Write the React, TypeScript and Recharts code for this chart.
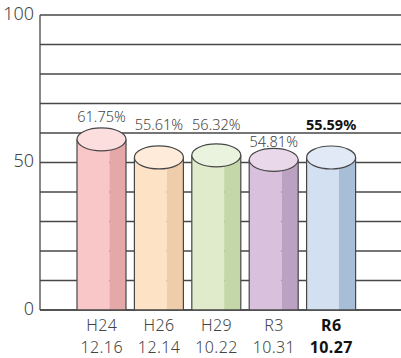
import { BarChart, Bar, XAxis, YAxis, CartesianGrid, LabelList } from 'recharts'

const periods = ['H24', 'H26', 'H29', 'R3', 'R6']
const dates = ['12.16', '12.14', '10.22', '10.31', '10.27']
const turnout = [61.75, 55.61, 56.32, 54.81, 55.59]
const yTicks = [0, 10, 20, 30, 40, 50, 60, 70, 80, 90, 100]
const yLabeled = [0, 50, 100]

// face / shade / lid colours of each cylinder
const faces = ['#f9c7c8', '#fde2c6', '#dfebca', '#d9c1de', '#d3e0f1']
const shades = ['#e5a8a9', '#efcdaa', '#c3d7a8', '#bba2c3', '#a8bdd6']
const lids = ['#fcdede', '#feebd9', '#eaf3dd', '#e8d8ea', '#e0e9f5']

// percentage labels sit a little apart to keep them off each other
const labelLift = [10, 20, 18, 5, 20]

const data = periods.map((p, i) => ({ name: p, date: dates[i], value: turnout[i] }))
const last = periods.length - 1
const font = '"Noto Sans", sans-serif'
const lineColor = '#474747'

function Cylinder(props: any) {
  const { x, y, width, height, index } = props
  const ry = 11.5
  const split = width * 0.66
  const bodyTop = y + ry
  const bottom = y + height
  return (
    <g>
      <rect x={x} y={bodyTop} width={split} height={bottom - bodyTop} fill={faces[index]} />
      <rect x={x + split} y={bodyTop} width={width - split} height={bottom - bodyTop} fill={shades[index]} />
      <line x1={x} y1={bodyTop} x2={x} y2={bottom} stroke={lineColor} strokeWidth={1.2} />
      <line x1={x + width} y1={bodyTop} x2={x + width} y2={bottom} stroke={lineColor} strokeWidth={1.2} />
      <ellipse cx={x + width / 2} cy={bodyTop} rx={width / 2} ry={ry} fill={lids[index]} stroke={lineColor} strokeWidth={1.2} />
    </g>
  )
}

function PercentLabel(props: any) {
  const { x, y, width, index, value } = props
  const bold = index === last
  return (
    <text
      x={x + width / 2}
      y={y - labelLift[index]}
      textAnchor="middle"
      dominantBaseline="middle"
      fontFamily={font}
      fontSize={14.5}
      fontWeight={bold ? 700 : 300}
      fill={bold ? '#111' : '#444'}
    >
      {value.toFixed(2)}%
    </text>
  )
}

function PeriodTick(props: any) {
  const { x, y, payload, index } = props
  const bold = index === last
  const style = {
    fontFamily: font,
    fontSize: 16,
    letterSpacing: 0.4,
    fontWeight: bold ? 700 : 300,
    fill: bold ? '#111' : '#444',
  }
  return (
    <g>
      <text x={x} y={y + 15} textAnchor="middle" dominantBaseline="middle" style={style}>
        {payload.value}
      </text>
      <text x={x} y={y + 37} textAnchor="middle" dominantBaseline="middle" style={style}>
        {dates[index]}
      </text>
    </g>
  )
}

function ValueTick(props: any) {
  const { x, y, payload } = props
  if (!yLabeled.includes(payload.value)) return null
  return (
    <text x={x - 4} y={y} textAnchor="end" dominantBaseline="middle" fontFamily={font} fontSize={18} fontWeight={300} fill="#444">
      {payload.value}
    </text>
  )
}

export default function App() {
  return (
    <div style={{ position: 'absolute', left: 0, top: 0, background: '#fff' }}>
      <BarChart width={401} height={358} data={data} margin={{ top: 15, right: 0, left: 0, bottom: 0 }}>
        <CartesianGrid horizontal vertical={false} stroke={lineColor} strokeWidth={1.3} />
        <XAxis
          dataKey="name"
          height={48}
          padding={{ left: 33, right: 41 }}
          axisLine={{ stroke: lineColor, strokeWidth: 1.3 }}
          tickLine={false}
          tickSize={0}
          interval={0}
          tick={<PeriodTick />}
        />
        <YAxis
          type="number"
          domain={[0, 100]}
          ticks={yTicks}
          width={40}
          tickLine={false}
          tickSize={0}
          axisLine={{ stroke: lineColor, strokeWidth: 1.3 }}
          tick={<ValueTick />}
        />
        <Bar dataKey="value" barSize={49} shape={<Cylinder />} isAnimationActive={false}>
          <LabelList dataKey="value" content={<PercentLabel />} />
        </Bar>
      </BarChart>
    </div>
  )
}
